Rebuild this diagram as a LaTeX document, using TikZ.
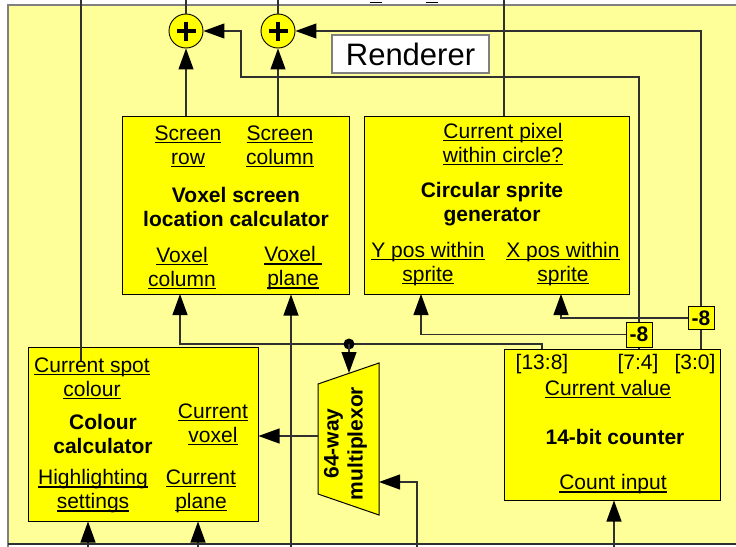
\documentclass[tikz,border=0pt]{standalone}
\usepackage{fontspec}
\setmainfont{Liberation Sans}
\usetikzlibrary{arrows.meta}
\definecolor{bg}{HTML}{FFFF99}
\definecolor{bx}{HTML}{FFFF00}
\definecolor{wirec}{HTML}{303030}
\definecolor{framec}{HTML}{808080}
\newsavebox\ulbox
\newcommand\ul[1]{\sbox\ulbox{#1}\rlap{\rule[-2.6pt]{\wd\ulbox}{1.1pt}}\usebox\ulbox}
\tikzset{
  lbl/.style={font=\fontsize{21}{24}\selectfont, align=center, inner sep=0pt, yshift=-1.5pt},
  bld/.style={lbl, font=\fontsize{21}{24}\selectfont\bfseries},
  box/.style={draw=black, fill=bx, line width=1pt, inner sep=0pt},
  wire/.style={draw=wirec, line width=1.1pt},
  arr/.style={wire, -{Triangle[length=21pt,width=15pt,color=black]}},
  m8/.style={box, minimum width=26pt, font=\fontsize{21}{24}\selectfont\bfseries},
  plus/.style={circle, draw=black, fill=bx, minimum size=34pt, inner sep=0pt, line width=0.9pt},
}
\begin{document}
\begin{tikzpicture}[x=1pt,y=-1pt]
\useasboundingbox (0,0) rectangle (736,546);
\clip (0,0) rectangle (736,546);
\fill[white] (0,0) rectangle (736,546);
% renderer frame
\fill[bg] (8,5) rectangle (760,544);
\draw[framec, line width=2pt] (8,548) -- (8,5) -- (760,5);
\draw[wirec, line width=1.5pt] (8,544) -- (760,544);
% fragments of text above the frame
\draw[line width=1pt] (370,2) -- (382,2) (426,2) -- (438,2);

% boxes
\node[box, minimum width=227pt, minimum height=178pt] (vox) at (235.5,205) {};
\node[box, minimum width=265pt, minimum height=178pt] (spr) at (496.5,205) {};
\node[box, minimum width=230pt, minimum height=174pt] (cc) at (143,434) {};
\node[box, minimum width=216pt, minimum height=151pt] (cnt) at (612,424.5) {};
\node[draw=framec, fill=white, line width=1.2pt, minimum width=157pt, minimum height=38pt,
      inner sep=0pt, font=\fontsize{31}{36}\selectfont] (rend) at (410.5,54) {Renderer};
\node[m8, minimum height=25pt] (m8a) at (639,334.5) {-8};
\node[m8, minimum height=23pt] (m8b) at (701,318) {-8};
\node[plus] (p1) at (186,31) {};
\node[plus] (p2) at (278,31) {};
\foreach \p in {p1,p2}{
  \draw[line width=3.6pt] (\p.center) ++(-9.5,0) -- ++(19,0);
  \draw[line width=3.6pt] (\p.center) ++(0,-9.5) -- ++(0,19);
}
% multiplexer
\draw[fill=bx, draw=black, line width=1pt] (318,384) -- (379,363) -- (379,515) -- (318,494) -- cycle;
\node[bld, rotate=90, yshift=1.5pt] (mux) at (347,442) {64-way\\multiplexor};
\coordinate (muxT) at (349,373);
\coordinate (muxL) at (318,436);
\coordinate (muxR) at (379,482);

% coordinates for free ends
\coordinate (topA) at (81,-5);
\coordinate (spotEnd) at (81,361);
\coordinate (topS) at (504,-5);
\coordinate (c138) at (542,349);
\coordinate (dot) at (349,344);
\coordinate (vcol) at (180,294);
\coordinate (turn1) at (241,77);
\coordinate (ypos) at (421,294);
\coordinate (xpos) at (561,294);
\coordinate (botA) at (88,548);
\coordinate (botB) at (198,548);
\coordinate (botC) at (291,548);
\coordinate (botD) at (417,548);
\coordinate (botE) at (614,548);

% wires
\draw[wire] (p1.north) -- ++(0,-30);
\draw[wire] (p2.north) -- ++(0,-30);
\draw[wire] (topA) -- (spotEnd);
\draw[wire] (topS) -- (topS |- spr.north);
\draw[arr] (vox.north -| p1) -- (p1.south);
\draw[arr] (vox.north -| p2) -- (p2.south);
\draw[arr] (m8a.north) |- (turn1) |- (p1.east);
\draw[arr] (m8b.north) |- (p2.east);
\draw[wire] (cnt.north -| m8a) -- (m8a.south);
\draw[wire] (cnt.north -| m8b) -- (m8b.south);
\draw[arr] (m8a.west) -| (ypos);
\draw[arr] (m8b.west) -| (xpos);
\draw[arr] (c138) |- (dot) -| (vcol);
\fill[black] (dot) circle (5.5pt);
\draw[arr] (dot) -- (muxT);
\draw[arr] (botC) -- (botC |- vox.south);
\draw[arr] (muxL) -- (muxL -| cc.east);
\draw[arr] (botD) |- (muxR);
\draw[arr] (botA) -- (botA |- cc.south);
\draw[arr] (botB) -- (botB |- cc.south);
\draw[arr] (botE) -- (botE |- cnt.south);

% texts: voxel screen location calculator
\node[lbl] (t1) at (188,144.5) {\ul{Screen}\\\ul{row}};
\node[lbl] (t2) at (280,144.5) {\ul{Screen}\\\ul{column}};
\node[bld] (t3) at (236,205) {Voxel screen\\location calculator};
\node[lbl] (t4) at (182,267) {\ul{Voxel}\\\ul{column}};
\node[lbl] (t5) at (293,267) {\ul{Voxel\ }\\\ul{plane}};
% circular sprite generator
\node[lbl] (s1) at (503,142.5) {\ul{Current pixel}\\\ul{within circle?}};
\node[bld] (s2) at (492,202.5) {Circular sprite\\generator};
\node[lbl] (s3) at (428,262.5) {\ul{Y pos within}\\\ul{sprite}};
\node[lbl] (s4) at (563,262.5) {\ul{X pos within}\\\ul{sprite}};
% colour calculator
\node[lbl] (c1) at (92,376.5) {\ul{Current spot}\\\ul{colour}};
\node[bld] (c2) at (103,432) {Colour\\calculator};
\node[lbl] (c3) at (213,422.5) {\ul{Current}\\\ul{voxel}};
\node[lbl] (c4) at (93,490) {\ul{Highlighting}\\\ul{settings}};
\node[lbl] (c5) at (201,490) {\ul{Current}\\\ul{plane}};
% counter
\node[lbl] (k1) at (542,363) {[13:8]};
\node[lbl] (k2) at (638,363) {[7:4]};
\node[lbl] (k3) at (695,363) {[3:0]};
\node[lbl] (k4) at (608,388) {\ul{Current value}};
\node[bld] (k5) at (615,435) {14-bit counter};
\node[lbl] (k6) at (613,483) {\ul{Count input}};
\end{tikzpicture}
\end{document}
